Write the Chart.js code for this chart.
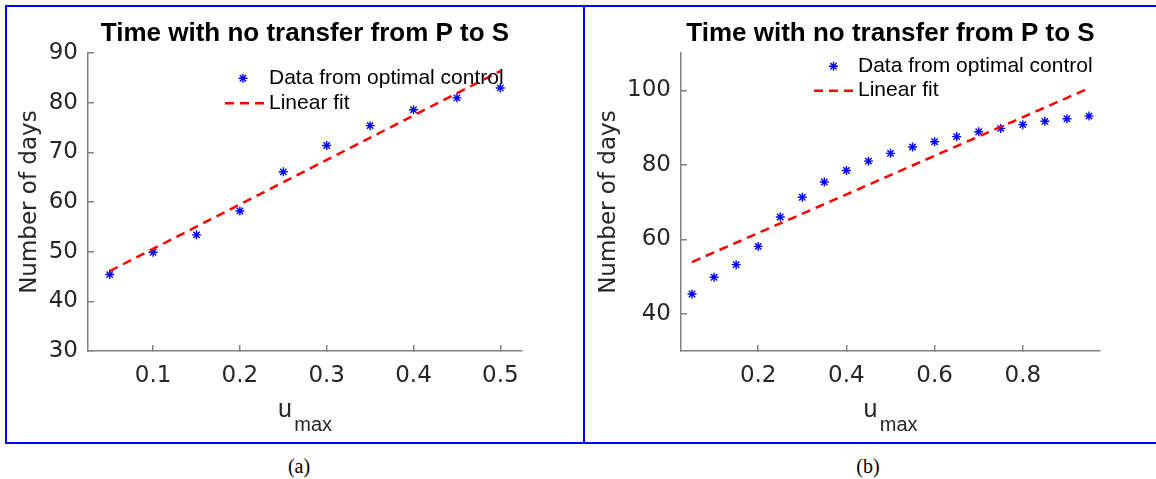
<!DOCTYPE html>
<html><head><meta charset="utf-8">
<script src="https://cdn.jsdelivr.net/npm/chart.js@4.4.1/dist/chart.umd.min.js"></script>
<style>
html,body{margin:0;padding:0;background:#fff;width:1156px;height:479px;overflow:hidden;position:relative}
.panel{position:absolute;box-sizing:border-box;border:2px solid #0000ff;top:5px;height:439px}
#pA{left:5px;width:580px}
#pB{left:583px;width:600px}
canvas{position:absolute}
#cA{left:8px;top:8px}
#cB{left:586px;top:8px}
.cap{position:absolute;top:456px;font-family:"Liberation Serif","DejaVu Serif",serif;font-size:20px;color:#000;width:60px;text-align:center;line-height:20px}
</style></head><body>
<div class="panel" id="pA"></div><div class="panel" id="pB"></div>
<canvas id="cA" width="574" height="433"></canvas>
<canvas id="cB" width="570" height="433"></canvas>
<div class="cap" style="left:269px">(a)</div>
<div class="cap" style="left:838px">(b)</div>
<script>
// ---- text ----
const TITLE = 'Time with no transfer from P to S';
const Y_LABEL = 'Number of days';
const X_LABEL_BASE = 'u';
const X_LABEL_SUB = 'max';
const LEGEND_LABELS = ['Data from optimal control', 'Linear fit'];

// ---- panel (a) ----
const uA = [0.05, 0.10, 0.15, 0.20, 0.25, 0.30, 0.35, 0.40, 0.45, 0.50];
const daysA = [45.4, 49.9, 53.4, 58.2, 66.1, 71.4, 75.4, 78.6, 81.0, 83.0];
const fitUA = [0.05, 0.50];
const fitDaysA = [46.1, 86.4];
const xTicksA = [0.1, 0.2, 0.3, 0.4, 0.5];
const yTicksA = [30, 40, 50, 60, 70, 80, 90];

// ---- panel (b) ----
const uB = [0.05, 0.10, 0.15, 0.20, 0.25, 0.30, 0.35, 0.40, 0.45, 0.50, 0.55, 0.60, 0.65, 0.70, 0.75, 0.80, 0.85, 0.90, 0.95];
const daysB = [45.3, 49.8, 53.2, 58.1, 66.0, 71.3, 75.4, 78.5, 81.0, 83.1, 84.8, 86.2, 87.6, 88.9, 89.8, 90.8, 91.7, 92.4, 93.1];
const fitUB = [0.05, 0.95];
const fitDaysB = [53.9, 100.6];
const xTicksB = [0.2, 0.4, 0.6, 0.8];
const yTicksB = [40, 60, 80, 100];

const SANS = '"Liberation Sans", Arial, Helvetica, sans-serif';
const WIDE = '"DejaVu Sans", sans-serif';
const AXIS_GRAY = '#808080';
const TEXT_GRAY = '#262626';

const overlay = {
  id: 'overlay',
  afterDraw(chart, args, o) {
    const ctx = chart.ctx, a = chart.chartArea;
    ctx.save();
    // x axis label u_max
    ctx.fillStyle = TEXT_GRAY;
    ctx.textBaseline = 'alphabetic';
    ctx.textAlign = 'left';
    ctx.font = '25px ' + SANS;
    const wu = ctx.measureText(X_LABEL_BASE).width;
    ctx.font = '20px ' + SANS;
    const wm = ctx.measureText(X_LABEL_SUB).width;
    const gap = 2.5;
    const cx = (a.left + a.right) / 2;
    const x0 = cx - (wu + gap + wm) / 2;
    ctx.font = '25px ' + SANS;
    ctx.fillText(X_LABEL_BASE, x0, a.bottom + 66);
    ctx.font = '20px ' + SANS;
    ctx.fillText(X_LABEL_SUB, x0 + wu + gap, a.bottom + 80);

    // legend
    const d0 = chart.data.datasets[0], d1 = chart.data.datasets[1];
    const y1 = a.top + o.row1Dy, y2 = a.top + o.row2Dy;
    ctx.strokeStyle = d0.borderColor;
    ctx.fillStyle = d0.backgroundColor;
    ctx.lineWidth = d0.pointBorderWidth;
    Chart.helpers.drawPoint(ctx, {pointStyle: d0.pointStyle, radius: d0.pointRadius, rotation: 0, borderWidth: d0.pointBorderWidth}, a.left + o.markerDx, y1);
    ctx.beginPath();
    ctx.setLineDash(d1.borderDash);
    ctx.strokeStyle = d1.borderColor;
    ctx.lineWidth = d1.borderWidth;
    ctx.moveTo(a.left + o.lineDx1, y2);
    ctx.lineTo(a.left + o.lineDx2, y2);
    ctx.stroke();
    ctx.setLineDash([]);
    ctx.fillStyle = '#000';
    ctx.font = '21px ' + SANS;
    ctx.textBaseline = 'middle';
    ctx.fillText(d0.label, a.left + o.textDx, y1);
    ctx.fillText(d1.label, a.left + o.textDx, y2);
    ctx.restore();
  }
};

function makeChart(id, c) {
  return new Chart(document.getElementById(id), {
    type: 'scatter',
    data: {
      datasets: [
        {
          type: 'scatter', label: LEGEND_LABELS[0],
          data: c.u.map((x, i) => ({x: x, y: c.days[i]})),
          pointStyle: 'star', pointRadius: 4.5, pointBorderWidth: 1.4,
          borderColor: '#0000ff', backgroundColor: '#0000ff', order: 1
        },
        {
          type: 'line', label: LEGEND_LABELS[1],
          data: c.fitU.map((x, i) => ({x: x, y: c.fitDays[i]})),
          borderColor: '#ff0000', backgroundColor: '#ff0000', borderWidth: 2.5,
          borderDash: [9, 6], pointRadius: 0, fill: false, order: 0
        }
      ]
    },
    options: {
      responsive: false, animation: false, devicePixelRatio: 1,
      layout: {padding: {left: 0, right: c.padRight, top: 0, bottom: 50}},
      plugins: {
        legend: {display: false},
        tooltip: {enabled: false},
        title: {
          display: true, text: TITLE, fullSize: false, color: '#000',
          font: {family: SANS, size: 26, weight: 'bold', lineHeight: 1.2},
          padding: {top: 10, bottom: 4}
        },
        overlay: c.legend
      },
      scales: {
        x: {
          type: 'linear', position: 'bottom', min: c.xMin, max: c.xMax,
          afterBuildTicks: s => { s.ticks = c.xTicks.map(v => ({value: v})); },
          afterFit: s => { s.height = 40; },
          ticks: {autoSkip: false, maxRotation: 0, minRotation: 0, color: TEXT_GRAY,
                  font: {family: WIDE, size: 23}, padding: 17, callback: v => String(v)},
          grid: {drawOnChartArea: false, drawTicks: true, tickLength: -6, color: AXIS_GRAY, lineWidth: 1.5},
          border: {display: true, color: AXIS_GRAY, width: 1.5}
        },
        y: {
          type: 'linear', position: 'left', min: c.yMin, max: c.yMax,
          afterBuildTicks: s => { s.ticks = c.yTicks.map(v => ({value: v})); },
          afterFit: s => { s.width = c.yAxisWidth; },
          ticks: {autoSkip: false, color: TEXT_GRAY, font: {family: WIDE, size: 23}, padding: 16, callback: v => String(v)},
          grid: {drawOnChartArea: false, drawTicks: true, tickLength: -6, color: AXIS_GRAY, lineWidth: 1.5},
          border: {display: true, color: AXIS_GRAY, width: 1.5},
          title: {display: true, text: Y_LABEL, color: TEXT_GRAY, font: {family: WIDE, size: 23, lineHeight: 1.2},
                  padding: {top: c.yTitlePad, bottom: 0}}
        }
      }
    },
    plugins: [overlay]
  });
}

makeChart('cA', {
  u: uA, days: daysA, fitU: fitUA, fitDays: fitDaysA,
  xMin: 0.025, xMax: 0.525, yMin: 30, yMax: 90, xTicks: xTicksA, yTicks: yTicksA,
  yAxisWidth: 80, padRight: 60, yTitlePad: 8,
  legend: {markerDx: 155, row1Dy: 25, lineDx1: 137, lineDx2: 177, row2Dy: 50, textDx: 181}
});
makeChart('cB', {
  u: uB, days: daysB, fitU: fitUB, fitDays: fitDaysB,
  xMin: 0.025, xMax: 0.975, yMin: 30, yMax: 110, xTicks: xTicksB, yTicks: yTicksB,
  yAxisWidth: 95, padRight: 56, yTitlePad: 9,
  legend: {markerDx: 152.5, row1Dy: 13, lineDx1: 133, lineDx2: 172.7, row2Dy: 37.5, textDx: 177}
});
</script>
</body></html>
